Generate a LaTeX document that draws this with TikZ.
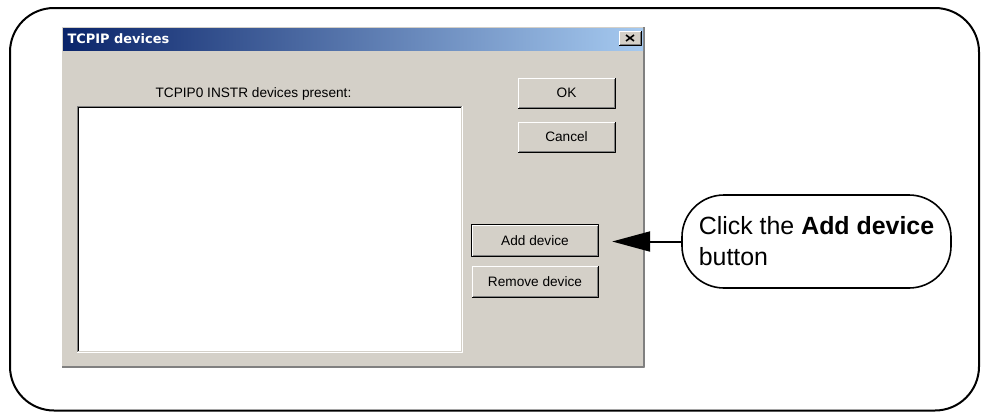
\documentclass[tikz,border=0pt]{standalone}
\usepackage{fontspec}
\setmainfont{Liberation Sans}
\newfontfamily\titlefont{DejaVu Sans}
\usetikzlibrary{arrows.meta}
\definecolor{btnface}{RGB}{212,208,200}
\definecolor{btnshadow}{RGB}{128,128,128}
\definecolor{titleA}{RGB}{10,36,106}
\definecolor{titleB}{RGB}{166,202,240}
\begin{document}
\begin{tikzpicture}[x=1bp, y=-1bp, line join=round,
	winbtn/.style={fill=btnface, inner sep=0pt, font=\fontsize{13.7}{16}\selectfont},
	callout/.style={draw, line width=1.6bp, rounded corners=42bp, align=left, minimum width=269bp, minimum height=93bp, inner sep=0pt, font=\fontsize{25}{31}\selectfont}]
	\useasboundingbox (0,0) rectangle (981,412);
	% outer frame
	\draw[line width=2bp, rounded corners=44bp] (10,8) rectangle (979,410.5);
	% dialog window
	\fill[btnface] (62,27) rectangle (645,368);
	\draw[btnshadow, line width=1.5bp] (62,367) -- (644,367) -- (644,27);
	\shade[left color=titleA, right color=titleB] (63,28) rectangle (643,50);
	\node[anchor=west, text=white, font=\titlefont\bfseries\fontsize{13}{15}\selectfont] (title) at (64,39) {TCPIP devices};
	\node[winbtn, minimum width=21bp, minimum height=13bp] (closebtn) at (630,38) {};
	\draw[line width=1.6bp] ([shift={(-4bp,-3bp)}]closebtn.center) -- ([shift={(4bp,3bp)}]closebtn.center);
	\draw[line width=1.6bp] ([shift={(-4bp,3bp)}]closebtn.center) -- ([shift={(4bp,-3bp)}]closebtn.center);
	% list box
	\node[anchor=base, font=\fontsize{13.7}{16}\selectfont] (lstlabel) at (253.5,97) {TCPIP0 INSTR devices present:};
	\node[fill=white, minimum width=385bp, minimum height=246bp, inner sep=0pt] (lstbox) at (269.5,229) {};
	\draw[btnshadow] (lstbox.south west) -- (lstbox.north west) -- (lstbox.north east);
	\draw[black] ([shift={(1bp,1bp)}]lstbox.south west) -- ([shift={(1bp,-1bp)}]lstbox.north west) -- ([shift={(-1bp,-1bp)}]lstbox.north east);
	\draw[white] (lstbox.south west) -- (lstbox.south east) -- (lstbox.north east);
	\draw[btnface] ([shift={(1bp,1bp)}]lstbox.south west) -- ([shift={(-1bp,1bp)}]lstbox.south east) -- ([shift={(-1bp,-1bp)}]lstbox.north east);
	% buttons
	\node[winbtn, minimum width=96bp, minimum height=30bp] (okbtn) at (566.5,93) {OK};
	\node[winbtn, minimum width=96bp, minimum height=30bp] (cancelbtn) at (566.5,137) {Cancel};
	\node[winbtn, minimum width=126bp, minimum height=31bp] (addbtn) at (535,240.5) {Add device};
	\node[winbtn, minimum width=126bp, minimum height=31bp] (rembtn) at (535,281.5) {Remove device};
	\foreach \b in {closebtn,okbtn,cancelbtn,addbtn,rembtn} {
		\draw[white] (\b.south west) -- (\b.north west) -- (\b.north east);
		\draw[black] (\b.south west) -- (\b.south east) -- (\b.north east);
		\draw[btnshadow] ([shift={(1bp,1bp)}]\b.south west) -- ([shift={(-1bp,1bp)}]\b.south east) -- ([shift={(-1bp,-1bp)}]\b.north east);
	}
	\draw[black, line width=1.2bp] (addbtn.south west) rectangle (addbtn.north east);
	% callout
	\node[callout] (callout) at (816.5,241.5) {Click the \textbf{Add device}\\button};
	\draw[line width=2bp, -{Triangle[length=38bp, width=20bp]}] (callout.west) -- ([xshift=14bp]addbtn.east |- callout.west);
\end{tikzpicture}
\end{document}
